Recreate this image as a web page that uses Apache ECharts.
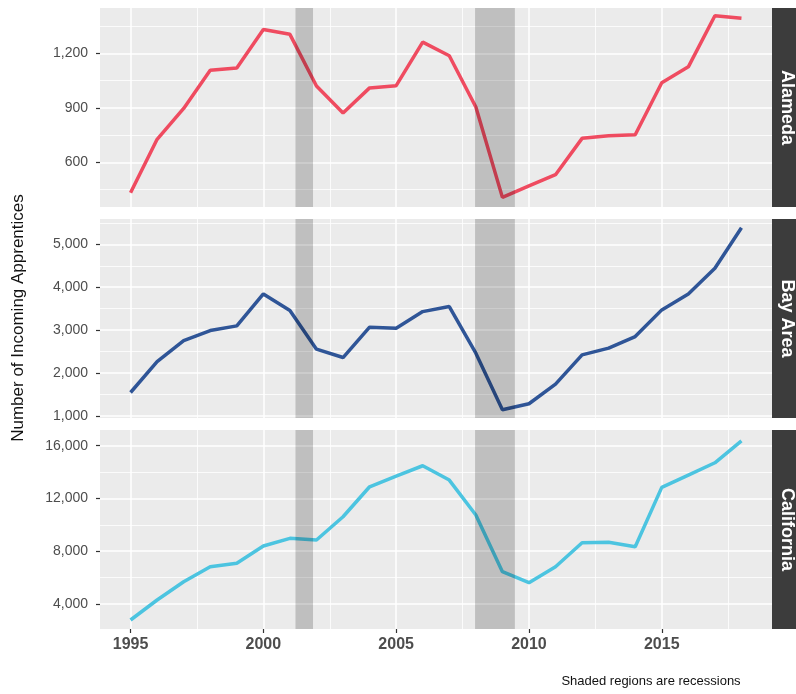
<!DOCTYPE html>
<html>
<head>
<meta charset="utf-8">
<script src="https://cdn.jsdelivr.net/npm/echarts@6/dist/echarts.min.js"></script>
<style>
  html, body { margin: 0; padding: 0; background: #fff; }
  #chart { width: 796px; height: 694px; }
</style>
</head>
<body>
<div id="chart"></div>
<script>
// data
var years = [1995, 1996, 1997, 1998, 1999, 2000, 2001, 2002, 2003, 2004, 2005, 2006,
             2007, 2008, 2009, 2010, 2011, 2012, 2013, 2014, 2015, 2016, 2017, 2018];
var alameda = [433, 727, 897, 1107, 1120, 1332, 1305, 1020, 872, 1010, 1022, 1262,
               1187, 905, 407, 470, 532, 732, 746, 752, 1038, 1126, 1407, 1393];
var bayArea = [1543, 2266, 2755, 2988, 3098, 3844, 3455, 2555, 2359, 3068, 3044, 3431,
               3548, 2461, 1140, 1280, 1739, 2422, 2578, 2849, 3471, 3844, 4443, 5389];
var california = [2788, 4303, 5689, 6826, 7083, 8394, 8977, 8848, 10614, 12886, 13697, 14480,
                  13394, 10742, 6447, 5614, 6826, 8644, 8674, 8341, 12841, 13773, 14705, 16371];
var recessions = [[2001.21, 2001.87], [2007.97, 2009.47]];

var panelNames = ['Alameda', 'Bay Area', 'California'];
var panelColors = ['#EF4B60', '#2F5597', '#4CC4E0'];
var xTicks = [1995, 2000, 2005, 2010, 2015];
var xMinor = [1997.5, 2002.5, 2007.5, 2012.5, 2017.5];
var yTicks = [[600, 900, 1200], [1000, 2000, 3000, 4000, 5000], [4000, 8000, 12000, 16000]];
var yMinor = [[450, 750, 1050, 1350], [1500, 2500, 3500, 4500, 5500], [2000, 6000, 10000, 14000]];
var yRange = [[354, 1450], [948, 5592], [2105, 17190]];

var FONT = '"Liberation Sans", Arial, sans-serif';
var tops = [8, 219, 430];
var H = 199, LEFT = 100, W = 672;

function fmt(v) {
    return String(v).replace(/\B(?=(\d{3})+(?!\d))/g, ',');
}

var myChart = echarts.init(document.getElementById('chart'));

var grids = [], xAxes = [], yAxes = [], series = [], graphics = [];
var allSeries = [alameda, bayArea, california];

for (var i = 0; i < 3; i++) {
    grids.push({
        left: LEFT, top: tops[i], width: W, height: H,
        show: true, backgroundColor: '#EBEBEB', borderWidth: 0
    });
    xAxes.push({
        gridIndex: i,
        type: 'value',
        min: 1993.85,
        max: 2019.15,
        axisLine: { show: false },
        splitLine: { show: false },
        axisTick: {
            show: i === 2, length: 4, customValues: xTicks,
            lineStyle: { color: '#333', width: 1.2 }
        },
        axisLabel: {
            show: i === 2, customValues: xTicks, margin: 8,
            color: '#4D4D4D', fontSize: 16, fontWeight: 'bold', fontFamily: FONT,
            formatter: function (v) { return String(v); }
        }
    });
    yAxes.push({
        gridIndex: i,
        type: 'value',
        min: yRange[i][0],
        max: yRange[i][1],
        axisLine: { show: false },
        splitLine: { show: false },
        axisTick: {
            show: true, length: 4, customValues: yTicks[i],
            lineStyle: { color: '#333', width: 1.2 }
        },
        axisLabel: {
            customValues: yTicks[i], margin: 12,
            color: '#4D4D4D', fontSize: 14, fontFamily: FONT,
            formatter: fmt
        }
    });

    // grid lines as mark lines (major thicker, minor thinner)
    var gl = [];
    xTicks.forEach(function (v) { gl.push({ xAxis: v, lineStyle: { width: 1.5 } }); });
    xMinor.forEach(function (v) { gl.push({ xAxis: v, lineStyle: { width: 0.8 } }); });
    yTicks[i].forEach(function (v) { gl.push({ yAxis: v, lineStyle: { width: 1.5 } }); });
    yMinor[i].forEach(function (v) {
        if (v > yRange[i][0] && v < yRange[i][1]) gl.push({ yAxis: v, lineStyle: { width: 0.8 } });
    });

    var pts = [];
    for (var k = 0; k < years.length; k++) pts.push([years[k], allSeries[i][k]]);

    series.push({
        name: panelNames[i],
        type: 'line',
        xAxisIndex: i,
        yAxisIndex: i,
        data: pts,
        symbol: 'none',
        z: 3,
        lineStyle: { color: panelColors[i], width: 3.5 },
        markLine: {
            silent: true,
            z: 1,
            symbol: ['none', 'none'],
            label: { show: false },
            lineStyle: { color: '#FFFFFF', type: 'solid' },
            emphasis: { disabled: true },
            data: gl
        },
        markArea: {
            silent: true,
            z: 6,
            itemStyle: { color: 'rgba(0,0,0,0.185)' },
            data: recessions.map(function (r) { return [{ xAxis: r[0] }, { xAxis: r[1] }]; })
        }
    });

    // facet strip on the right
    graphics.push({
        type: 'rect',
        shape: { x: 772, y: tops[i], width: 30, height: H },
        style: { fill: '#3C3C3C' }
    });
    graphics.push({
        type: 'text',
        x: 787, y: tops[i] + H / 2,
        rotation: -Math.PI / 2,
        style: {
            text: panelNames[i], fill: '#FFFFFF',
            font: 'bold 18px ' + FONT,
            align: 'center', verticalAlign: 'middle'
        }
    });
}

graphics.push({
    type: 'text',
    x: 18, y: 318,
    rotation: Math.PI / 2,
    style: {
        text: 'Number of Incoming Apprentices', fill: '#111111',
        font: '17px ' + FONT, align: 'center', verticalAlign: 'middle'
    }
});
graphics.push({
    type: 'text',
    x: 651, y: 681,
    style: {
        text: 'Shaded regions are recessions', fill: '#111111',
        font: '13px ' + FONT, align: 'center', verticalAlign: 'middle'
    }
});

myChart.setOption({
    animation: false,
    grid: grids,
    xAxis: xAxes,
    yAxis: yAxes,
    series: series,
    graphic: graphics
});
</script>
</body>
</html>
